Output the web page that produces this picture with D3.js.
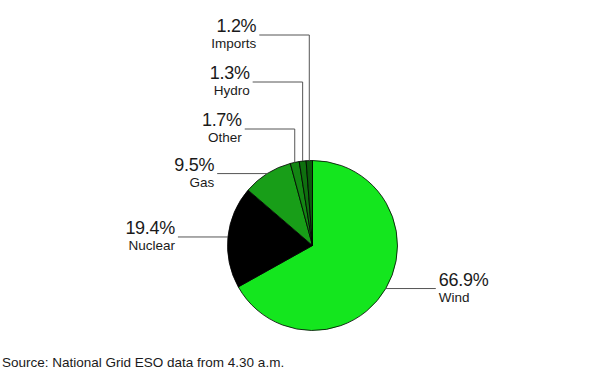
<!DOCTYPE html>
<html>
<head>
<meta charset="utf-8">
<script src="https://cdn.jsdelivr.net/npm/d3@7"></script>
<style>
	body { margin: 0; background: #fff; }
	svg text { font-family: "Liberation Sans", Arial, sans-serif; fill: #1a1a1a; }
</style>
</head>
<body>
<div id="chart"></div>
<script>
const categories = ["Wind", "Nuclear", "Gas", "Other", "Hydro", "Imports"];
const shares = [66.9, 19.4, 9.5, 1.7, 1.3, 1.2];
const colors = ["#14e61e", "#000000", "#189e18", "#138613", "#0f700f", "#0b5c0b"];

// where each label sits: side and (for the thin slices) how high the leader climbs
const labelSide = ["right", "left", "left", "left", "left", "left"];
const labelRise = [null, null, null, 129, 82, 35];

const width = 600, height = 382;
const cx = 312.5, cy = 245.5, radius = 85, tail = 50;

const svg = d3.select("#chart")
	.append("svg")
	.attr("width", width)
	.attr("height", height);

const pie = d3.pie().sort(null).value((d) => d.share);
const data = categories.map((c, i) => ({ name: c, share: shares[i], color: colors[i], side: labelSide[i], rise: labelRise[i] }));
const arcs = pie(data);

const arc = d3.arc().innerRadius(0).outerRadius(radius);
const edge = d3.arc().innerRadius(radius).outerRadius(radius);

const g = svg.append("g").attr("transform", `translate(${cx},${cy})`);

g.selectAll("path.slice")
	.data(arcs)
	.enter()
	.append("path")
	.attr("class", "slice")
	.attr("d", arc)
	.attr("fill", (d) => d.data.color)
	.attr("stroke", "#000")
	.attr("stroke-width", 0.8)
	.attr("stroke-linejoin", "round");

const labels = g.selectAll("g.label")
	.data(arcs)
	.enter()
	.append("g")
	.attr("class", "label");

labels.each(function (d) {
	const sel = d3.select(this);
	const [ex, ey] = edge.centroid(d);
	const ly = d.data.rise !== null ? d.data.rise - cy : ey;
	const dir = d.data.side === "right" ? 1 : -1;
	const endX = ex + dir * tail;

	const pts = d.data.rise !== null ? [[ex, ey], [ex, ly], [endX, ly]] : [[ex, ey], [endX, ly]];

	sel.append("path")
		.attr("d", d3.line()(pts))
		.attr("fill", "none")
		.attr("stroke", "#555")
		.attr("stroke-width", 1);

	const tx = endX + dir * 3;
	const anchor = dir > 0 ? "start" : "end";

	sel.append("text")
		.attr("x", tx)
		.attr("y", ly - 3)
		.attr("text-anchor", anchor)
		.attr("font-size", 18)
		.attr("letter-spacing", -0.3)
		.text(d3.format(".1f")(d.data.share) + "%");

	sel.append("text")
		.attr("x", tx)
		.attr("y", ly + 13)
		.attr("text-anchor", anchor)
		.attr("font-size", 13.5)
		.text(d.data.name);
});

svg.append("text")
	.attr("x", 2)
	.attr("y", 367)
	.attr("font-size", 13.5)
	.text("Source: National Grid ESO data from 4.30 a.m.");
</script>
</body>
</html>
